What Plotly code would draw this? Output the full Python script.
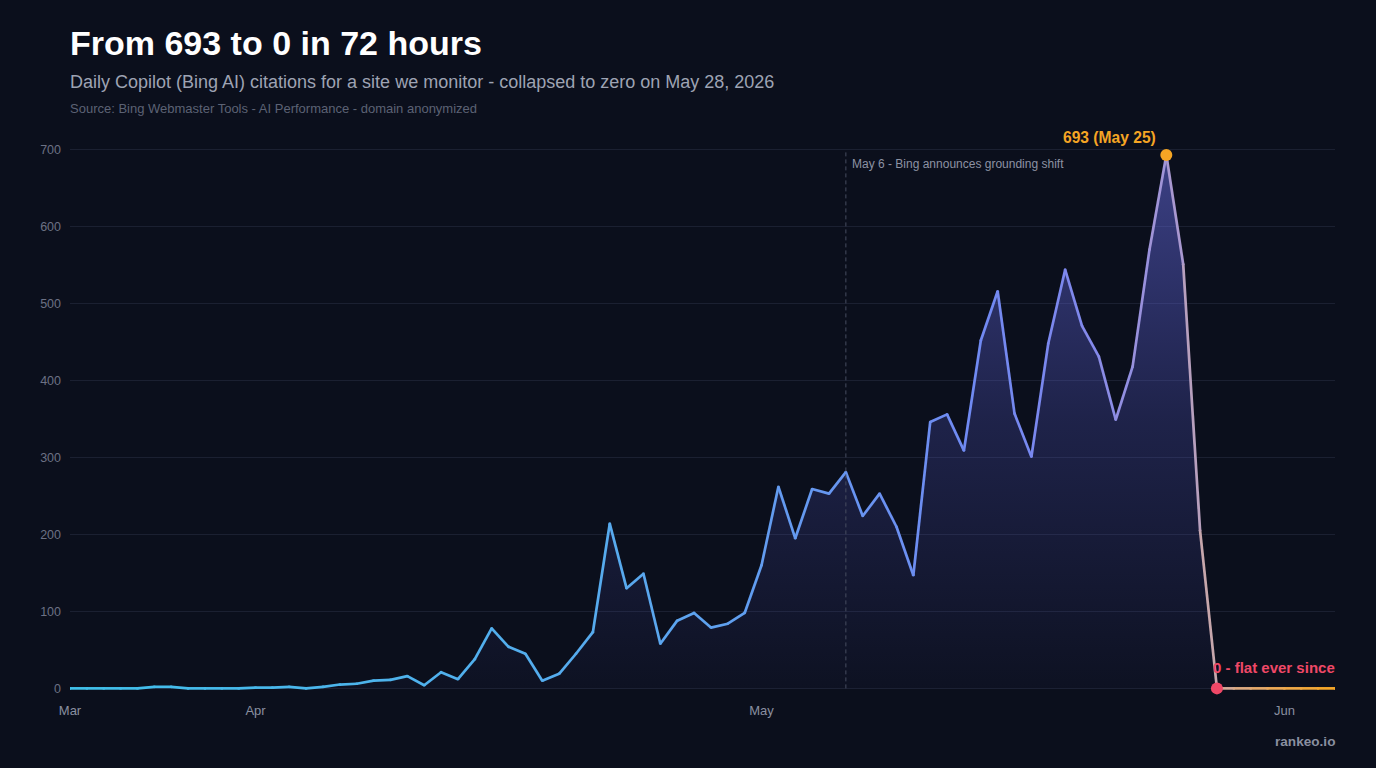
import pandas as pd
import plotly.graph_objects as go

# ---------------- data ----------------
start_date = "2026-03-21"
citations = [
    0, 0, 0, 0, 0,
    2, 2, 0, 0, 0, 0,
    1, 1, 2, 0, 2,
    5, 6, 10, 11, 16,
    4, 21, 12, 38, 78,
    54, 45, 10, 19, 45,
    73, 214, 130, 149, 58,
    88, 98, 79, 84, 98,
    160, 262, 195, 259, 253,
    281, 224, 253, 210, 147,
    346, 356, 309, 452, 516,
    357, 301, 448, 544, 471,
    431, 349, 418, 570, 693,
    551, 205, 0,
    0, 0, 0, 0, 0, 0, 0,
]
dates = list(pd.date_range(start_date, periods=len(citations), freq="D"))

tick_dates = ["2026-03-21", "2026-04-01", "2026-05-01", "2026-06-01"]
tick_labels = ["Mar", "Apr", "May", "Jun"]
y_ticks = [0, 100, 200, 300, 400, 500, 600, 700]

peak_index = citations.index(max(citations))
zero_index = 68  # May 28
event_date = "2026-05-06"

title_text = "From 693 to 0 in 72 hours"
subtitle_text = "Daily Copilot (Bing AI) citations for a site we monitor - collapsed to zero on May 28, 2026"
source_text = "Source: Bing Webmaster Tools - AI Performance - domain anonymized"
event_text = "May 6 - Bing announces grounding shift"
peak_text = f"{citations[peak_index]} (May 25)"
zero_text = "0 - flat ever since"
brand_text = "rankeo.io"

# ---------------- styling ----------------
BG = "#0b0f1c"
GRID = "#1b2031"
FONT = "Liberation Sans, Arial, Helvetica, sans-serif"
ORANGE = "#f5a524"
ROSE = "#ef4867"

# horizontal colour ramp of the line (fraction along x -> rgb)
stops = [
    (0.00, (64, 192, 234)),
    (0.43, (88, 170, 238)),
    (0.72, (113, 137, 242)),
    (0.80, (128, 136, 236)),
    (0.87, (165, 150, 212)),
    (0.905, (205, 170, 165)),
    (0.95, (236, 170, 90)),
    (1.00, (245, 166, 36)),
]


def ramp(f):
    for (f0, c0), (f1, c1) in zip(stops[:-1], stops[1:]):
        if f <= f1:
            t = 0 if f1 == f0 else (f - f0) / (f1 - f0)
            return "rgb(%d,%d,%d)" % tuple(round(a + (b - a) * t) for a, b in zip(c0, c1))
    return "rgb(%d,%d,%d)" % stops[-1][1]


n = len(citations)
fig = go.Figure()

# gradient area fill
fig.add_trace(go.Scatter(
    x=dates, y=citations, mode="lines", line=dict(width=0),
    fill="tozeroy",
    fillgradient=dict(type="vertical", start=0, stop=700,
                      colorscale=[[0, "rgba(99,104,235,0.03)"],
                                  [0.5, "rgba(99,104,235,0.22)"],
                                  [1, "rgba(110,115,240,0.50)"]]),
    hoverinfo="skip", showlegend=False,
))

# coloured line segments
LW = 2.7
for i in range(n - 1):
    fig.add_trace(go.Scatter(
        x=dates[i:i + 2], y=citations[i:i + 2], mode="lines",
        line=dict(color=ramp((i + 0.5) / (n - 1)), width=LW),
        hoverinfo="skip", showlegend=False,
    ))

# joints
fig.add_trace(go.Scatter(
    x=dates, y=citations, mode="markers",
    marker=dict(size=LW, color=[ramp(i / (n - 1)) for i in range(n)], line=dict(width=0)),
    hoverinfo="skip", showlegend=False,
))

# highlighted points
fig.add_trace(go.Scatter(
    x=[dates[peak_index]], y=[citations[peak_index]], mode="markers",
    marker=dict(size=12, color=ORANGE), cliponaxis=False,
    hoverinfo="skip", showlegend=False,
))
fig.add_trace(go.Scatter(
    x=[dates[zero_index]], y=[citations[zero_index]], mode="markers",
    marker=dict(size=12, color=ROSE), cliponaxis=False,
    hoverinfo="skip", showlegend=False,
))

# event line
fig.add_shape(type="line", xref="x", yref="y",
              x0=event_date, x1=event_date, y0=0, y1=700,
              line=dict(color="#474d60", width=1, dash="4px,3px"))

# plot area geometry
L, R, T, B = 70, 1335, 145.4, 692.6
H = B - T


def py(pixel_y):
    return (B - pixel_y) / H


ann = [
    dict(text=f"<b>{title_text}</b>", x=0, y=py(44), xanchor="left", yanchor="middle",
         font=dict(size=34, color="#ffffff", family=FONT), xshift=-2),
    dict(text=subtitle_text, x=0, y=py(82), xanchor="left", yanchor="middle",
         font=dict(size=18, color="#9ea3b3", family=FONT), xshift=-2),
    dict(text=source_text, x=0, y=py(109), xanchor="left", yanchor="middle",
         font=dict(size=13, color="#5c6274", family=FONT), xshift=-2),
    dict(text=f"<b>{brand_text}</b>", x=1, y=py(741), xanchor="right", yanchor="middle",
         font=dict(size=13.6, color="#8a8fa0", family=FONT), xshift=2),
    dict(text=f"<b>{zero_text}</b>", x=1, y=py(667), xanchor="right", yanchor="middle",
         font=dict(size=15, color=ROSE, family=FONT), xshift=2),
]
for a in ann:
    a.update(xref="paper", yref="paper", showarrow=False)
    fig.add_annotation(**a)

fig.add_annotation(text=f"<b>{peak_text}</b>", xref="x", yref="paper",
                   x=dates[peak_index], y=py(138), xanchor="right", yanchor="middle",
                   xshift=-8, showarrow=False,
                   font=dict(size=15.6, color=ORANGE, family=FONT))
fig.add_annotation(text=event_text, xref="x", yref="paper",
                   x=event_date, y=py(164), xanchor="left", yanchor="middle",
                   xshift=4, showarrow=False,
                   font=dict(size=12, color="#8d92a3", family=FONT))

fig.update_layout(
    width=1376, height=768,
    margin=dict(l=L, r=1376 - R, t=T, b=768 - B, pad=0),
    paper_bgcolor=BG, plot_bgcolor=BG,
    font=dict(family=FONT, color="#8a8fa0"),
    showlegend=False,
    xaxis=dict(
        type="date", range=[dates[0], dates[-1]],
        tickvals=tick_dates, ticktext=tick_labels,
        showgrid=False, zeroline=False, showline=False, ticks="",
        tickfont=dict(size=13, color="#8a8fa0", family=FONT),
        ticklabelstandoff=8, fixedrange=True,
    ),
    yaxis=dict(
        range=[-6, 706], tickvals=y_ticks,
        showgrid=True, gridcolor=GRID, gridwidth=1,
        zeroline=False, showline=False, ticks="",
        tickfont=dict(size=12.5, color="#6c7184", family=FONT),
        ticklabelstandoff=8, fixedrange=True,
    ),
)

fig.write_html("out.html", config={"displayModeBar": False})
